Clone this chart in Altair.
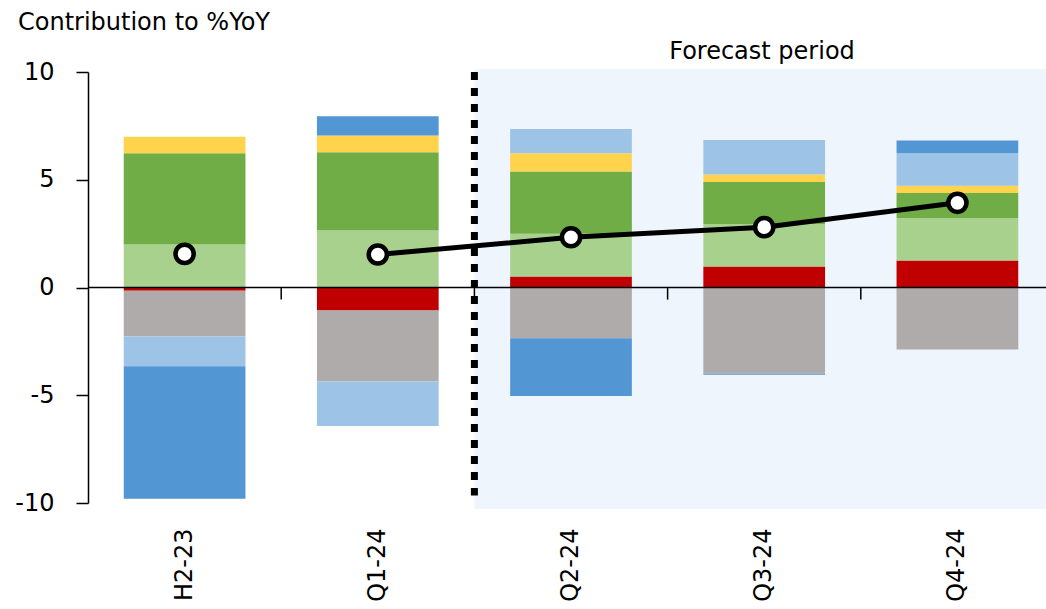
import altair as alt
import pandas as pd

categories = ["H2-23", "Q1-24", "Q2-24", "Q3-24", "Q4-24"]
series_names = ["Red", "Light green", "Dark green", "Grey", "Yellow", "Light blue", "Blue"]
series_colors = ["#C00000", "#A9D18E", "#70AD47", "#AFABAB", "#FFD34C", "#9DC3E6", "#5296D3"]

red = [-0.15, -1.07, 0.51, 0.97, 1.25]
light_green = [2.00, 2.65, 1.98, 1.98, 1.97]
dark_green = [4.23, 3.63, 2.89, 1.94, 1.16]
grey = [-2.12, -3.29, -2.35, -4.00, -2.88]
yellow = [0.77, 0.77, 0.85, 0.35, 0.34]
light_blue = [-1.38, -2.07, 1.13, 1.61, 1.51]
blue = [-6.15, 0.90, -2.69, -0.05, 0.59]
total_yoy = [1.56, 1.53, 2.33, 2.80, 3.93]

tick_cats = ["Q1-24", "Q2-24", "Q3-24", "Q4-24"]
forecast_start = "Q2-24"

W, H = 958, 431
FONT = "DejaVu Sans"

series_values = [red, light_green, dark_green, grey, yellow, light_blue, blue]
rows = []
for i, (name, vals) in enumerate(zip(series_names, series_values)):
    for c, v in zip(categories, vals):
        rows.append({"cat": c, "series": name, "idx": i, "value": v})
bars_df = pd.DataFrame(rows)
line_df = pd.DataFrame({"cat": categories, "yoy": total_yoy})
line_df["seg"] = ["hist"] + ["main"] * 4

xscale = alt.Scale(domain=categories, range=[0, 966], paddingInner=0, paddingOuter=0)
yscale = alt.Scale(domain=[-10, 10], nice=False, zero=False)

xaxis = alt.Axis(labelAngle=-90, labelAlign="right", labelBaseline="middle",
                 labelPadding=25, ticks=False, domain=False,
                 labelFont=FONT, labelFontSize=24, labelColor="#000")
yaxis = alt.Axis(values=[-10, -5, 0, 5, 10], grid=False, tickSize=12,
                 tickColor="#000", domainColor="#000", domainWidth=1.5,
                 tickWidth=1.5, labelPadding=22, labelFont=FONT,
                 labelFontSize=24, labelColor="#000",
                 labelExpr="'' + datum.value")


def X(**kw):
    return alt.X("cat:N", scale=xscale, sort=categories, title=None, axis=xaxis, **kw)


def Y(field):
    return alt.Y(field, scale=yscale, title=None, axis=yaxis)


shade_df = pd.DataFrame({"cat": [forecast_start], "top": [10.13], "bottom": [-10.28]})
shade = alt.Chart(shade_df).mark_rect(color="#EEF5FC").encode(
    x=X(bandPosition=0),
    x2=alt.value(W),
    y=Y("top:Q"),
    y2="bottom:Q",
)

bars = alt.Chart(bars_df).mark_bar(width={"band": 0.63}).encode(
    x=X(),
    y=alt.Y("value:Q", stack="zero", scale=yscale, title=None, axis=yaxis),
    color=alt.Color("series:N", scale=alt.Scale(domain=series_names, range=series_colors),
                    legend=None),
    order=alt.Order("idx:Q"),
)

zero_df = pd.DataFrame({"cat": [categories[0]], "zero": [0.0]})
zero_line = alt.Chart(zero_df).mark_rule(color="#000", strokeWidth=1.5).encode(
    x=alt.value(0), x2=alt.value(W), y=Y("zero:Q")
)

ticks_df = pd.DataFrame({"cat": tick_cats, "y0": [0.0] * 4, "y1": [-0.56] * 4})
ticks = alt.Chart(ticks_df).mark_rule(color="#000", strokeWidth=1.5).encode(
    x=X(bandPosition=0), y=Y("y0:Q"), y2="y1:Q"
)

div_df = pd.DataFrame({"cat": [forecast_start], "y0": [10.0], "y1": [-9.65]})
divider = alt.Chart(div_df).mark_rule(
    color="#000", strokeWidth=7, strokeDash=[8, 8]
).encode(x=X(bandPosition=0), y=Y("y0:Q"), y2="y1:Q")

line = alt.Chart(line_df[line_df["seg"] == "main"]).mark_line(
    color="#000", strokeWidth=5
).encode(x=X(), y=Y("yoy:Q"))

points = alt.Chart(line_df).mark_point(
    filled=True, fill="#fff", stroke="#000", strokeWidth=4.5, size=330, opacity=1
).encode(x=X(), y=Y("yoy:Q"))

title_txt = alt.Chart(pd.DataFrame({"t": ["Contribution to %YoY"]})).mark_text(
    align="left", baseline="alphabetic", font=FONT, fontSize=24, color="#000"
).encode(x=alt.value(-70), y=alt.value(-42), text="t:N")

fc_txt = alt.Chart(pd.DataFrame({"t": ["Forecast period"]})).mark_text(
    align="center", baseline="alphabetic", font=FONT, fontSize=24, color="#000"
).encode(x=alt.value(674), y=alt.value(-13), text="t:N")

chart = alt.layer(
    shade, bars, zero_line, ticks, divider, line, points, title_txt, fc_txt
).properties(
    width=W, height=H, padding={"left": 88, "top": 72, "right": 0, "bottom": 106},
    autosize=alt.AutoSizeParams(type="none"), background="#ffffff"
).configure_view(stroke=None)

chart.save("out.html", embed_options={"renderer": "svg", "actions": False})
